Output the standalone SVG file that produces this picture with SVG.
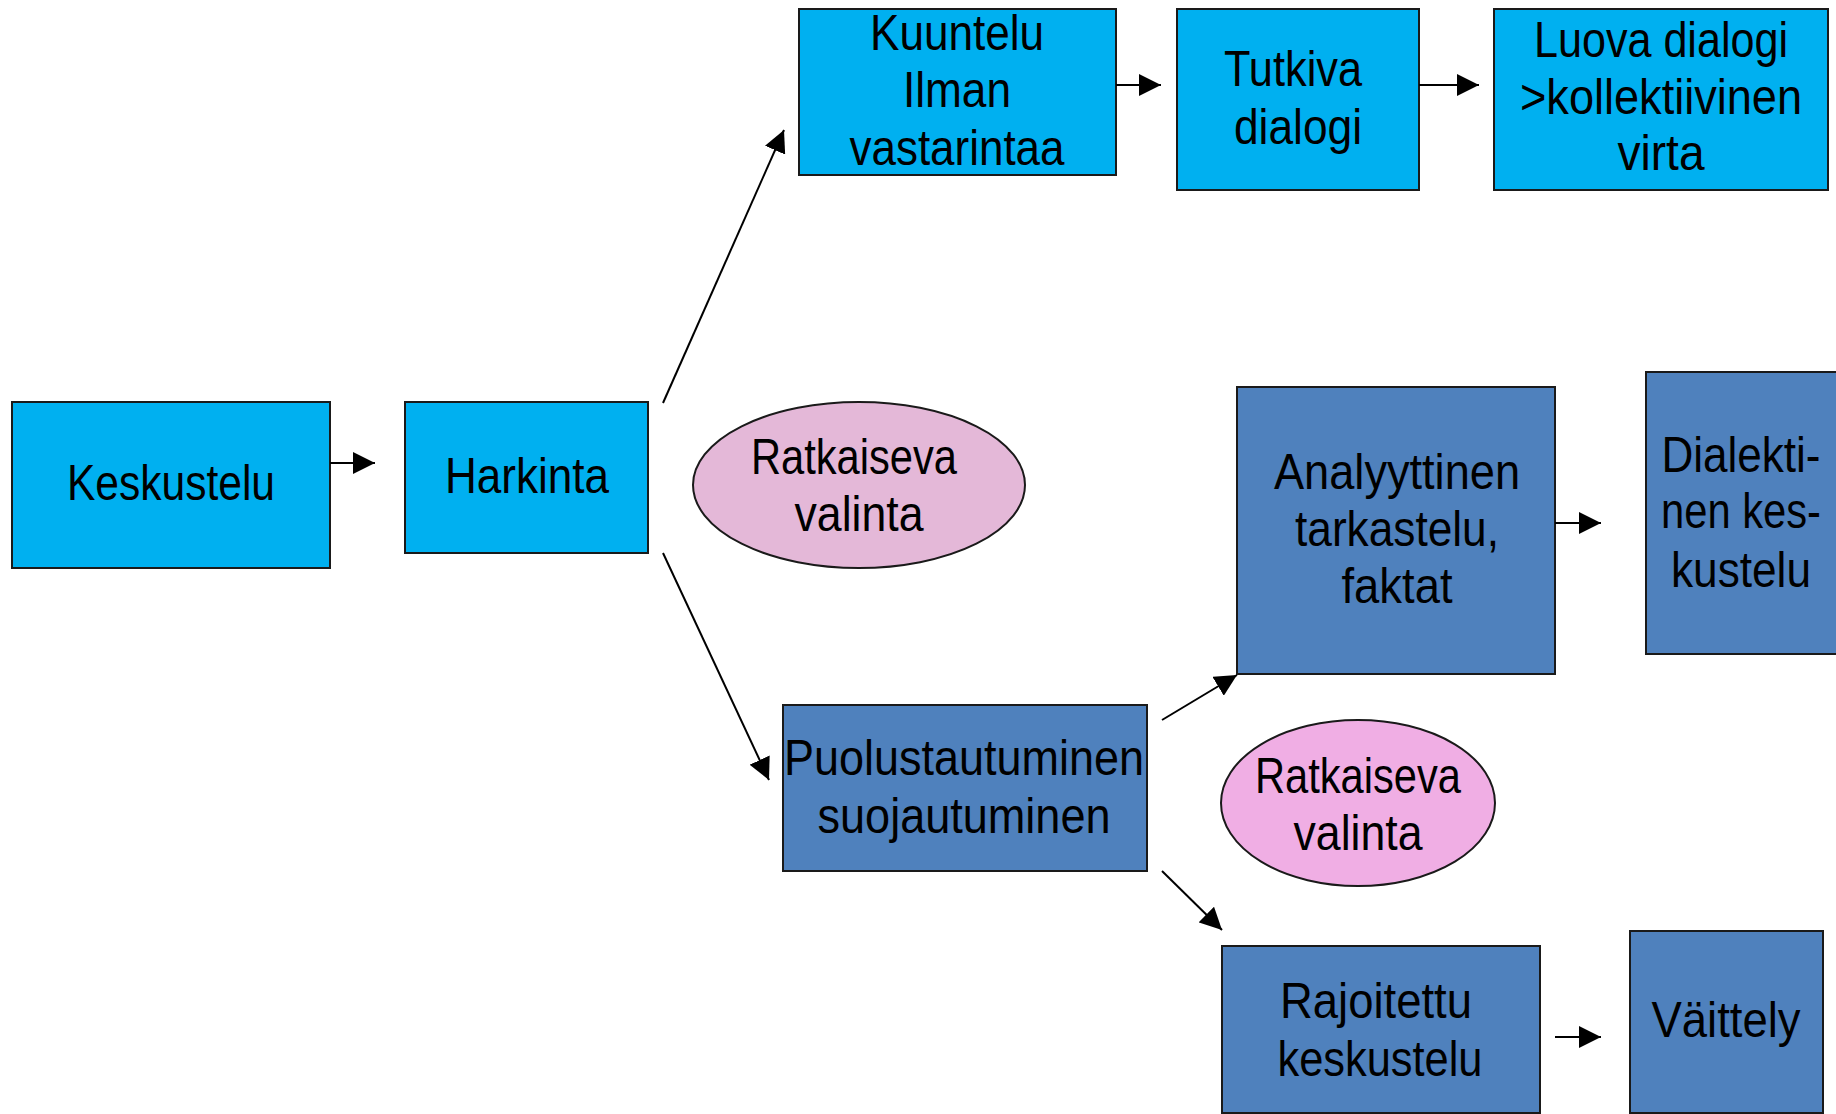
<svg xmlns="http://www.w3.org/2000/svg" width="1836" height="1114" viewBox="0 0 1836 1114">
<style>
.cy{fill:#00B0F0;stroke:#1a1a1a;stroke-width:2}
.bl{fill:#4F81BD;stroke:#1a1a1a;stroke-width:2}
.e1{fill:#E4B8D8;stroke:#1a1a1a;stroke-width:2}
.e2{fill:#F0AEE4;stroke:#1a1a1a;stroke-width:2}
text{font-family:"Liberation Sans",Arial,sans-serif;font-size:50px;fill:#000;text-anchor:middle}
.c line{stroke:#000;stroke-width:2;marker-end:url(#ah)}
</style>
<defs>
<marker id="ah" markerUnits="userSpaceOnUse" markerWidth="22" markerHeight="22" refX="20" refY="10" orient="auto" viewBox="0 0 20 20">
<path d="M0,0 L20,10 L0,20 z" fill="#000"/>
</marker>
</defs>
<rect width="1836" height="1114" fill="#fff"/>
<g id="n-keskustelu">
<rect class="cy" x="12" y="402" width="318" height="166"/>
<text x="171" y="500" textLength="208" lengthAdjust="spacingAndGlyphs">Keskustelu</text>
</g>
<g id="n-harkinta">
<rect class="cy" x="405" y="402" width="243" height="151"/>
<text x="527" y="493" textLength="164" lengthAdjust="spacingAndGlyphs">Harkinta</text>
</g>
<g id="n-ratkaiseva1">
<ellipse class="e1" cx="859" cy="485" rx="166" ry="83"/>
<text x="854" y="474" textLength="206" lengthAdjust="spacingAndGlyphs">Ratkaiseva</text>
<text x="859" y="531" textLength="129" lengthAdjust="spacingAndGlyphs">valinta</text>
</g>
<g id="n-kuuntelu">
<rect class="cy" x="799" y="9" width="317" height="166"/>
<text x="957" y="50" textLength="174" lengthAdjust="spacingAndGlyphs">Kuuntelu</text>
<text x="957" y="107" textLength="108" lengthAdjust="spacingAndGlyphs">Ilman</text>
<text x="957" y="165" textLength="215" lengthAdjust="spacingAndGlyphs">vastarintaa</text>
</g>
<g id="n-tutkiva">
<rect class="cy" x="1177" y="9" width="242" height="181"/>
<text x="1293" y="86" textLength="138" lengthAdjust="spacingAndGlyphs">Tutkiva</text>
<text x="1298" y="144" textLength="128" lengthAdjust="spacingAndGlyphs">dialogi</text>
</g>
<g id="n-luova">
<rect class="cy" x="1494" y="9" width="334" height="181"/>
<text x="1661" y="57" textLength="254" lengthAdjust="spacingAndGlyphs">Luova dialogi</text>
<text x="1661" y="114" textLength="282" lengthAdjust="spacingAndGlyphs">&gt;kollektiivinen</text>
<text x="1661" y="170" textLength="87" lengthAdjust="spacingAndGlyphs">virta</text>
</g>
<g id="n-analyyttinen">
<rect class="bl" x="1237" y="387" width="318" height="287"/>
<text x="1397" y="489" textLength="246" lengthAdjust="spacingAndGlyphs">Analyyttinen</text>
<text x="1397" y="546" textLength="204" lengthAdjust="spacingAndGlyphs">tarkastelu,</text>
<text x="1397" y="603" textLength="111" lengthAdjust="spacingAndGlyphs">faktat</text>
</g>
<g id="n-dialektinen">
<rect class="bl" x="1646" y="372" width="191" height="282"/>
<text x="1741" y="472" textLength="159" lengthAdjust="spacingAndGlyphs">Dialekti-</text>
<text x="1741" y="528" textLength="160" lengthAdjust="spacingAndGlyphs">nen kes-</text>
<text x="1741" y="587" textLength="140" lengthAdjust="spacingAndGlyphs">kustelu</text>
</g>
<g id="n-puolustautuminen">
<rect class="bl" x="783" y="705" width="364" height="166"/>
<text x="964" y="775" textLength="360" lengthAdjust="spacingAndGlyphs">Puolustautuminen</text>
<text x="964" y="833" textLength="293" lengthAdjust="spacingAndGlyphs">suojautuminen</text>
</g>
<g id="n-ratkaiseva2">
<ellipse class="e2" cx="1358" cy="803" rx="137" ry="83"/>
<text x="1358" y="793" textLength="206" lengthAdjust="spacingAndGlyphs">Ratkaiseva</text>
<text x="1358" y="850" textLength="129" lengthAdjust="spacingAndGlyphs">valinta</text>
</g>
<g id="n-rajoitettu">
<rect class="bl" x="1222" y="946" width="318" height="167"/>
<text x="1376" y="1018" textLength="192" lengthAdjust="spacingAndGlyphs">Rajoitettu</text>
<text x="1380" y="1076" textLength="205" lengthAdjust="spacingAndGlyphs">keskustelu</text>
</g>
<g id="n-vaittely">
<rect class="bl" x="1630" y="931" width="193" height="182"/>
<text x="1726" y="1037" textLength="149" lengthAdjust="spacingAndGlyphs">Väittely</text>
</g>
<g id="connectors" class="c">
<line x1="330" y1="463" x2="375" y2="463"/>
<line x1="663" y1="403" x2="784" y2="130"/>
<line x1="663" y1="553" x2="769" y2="780"/>
<line x1="1116" y1="85" x2="1161" y2="85"/>
<line x1="1419" y1="85" x2="1479" y2="85"/>
<line x1="1555" y1="523" x2="1601" y2="523"/>
<line x1="1162" y1="720" x2="1237" y2="675"/>
<line x1="1162" y1="871" x2="1222" y2="930"/>
<line x1="1555" y1="1037" x2="1601" y2="1037"/>
</g>
</svg>
